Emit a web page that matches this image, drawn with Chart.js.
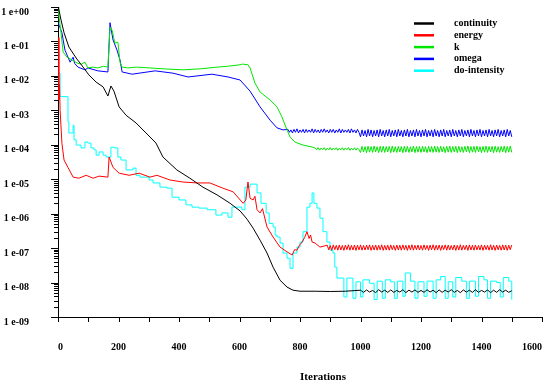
<!DOCTYPE html>
<html><head><meta charset="utf-8">
<script src="https://cdn.jsdelivr.net/npm/chart.js@4.4.1/dist/chart.umd.min.js"></script>
<style>html,body{margin:0;padding:0;background:#fff;}canvas{display:block;}</style>
</head><body>
<canvas id="c" width="550" height="387"></canvas>
<script>
const seriesNames = ['continuity', 'energy', 'k', 'omega', 'do-intensity'];
const seriesColors = ['#000000', '#ff0000', '#00e600', '#0000ff', '#00ffff'];
const xTitle = 'Iterations';
const xTickLabels = ['0','200','400','600','800','1000','1200','1400','1600'];
const yTickLabels = ['1 e-09','1 e-08','1 e-07','1 e-06','1 e-05','1 e-04','1 e-03','1 e-02','1 e-01','1 e+00'];

// shared iteration grid for the oscillating tails (1000..1500, every 5)
const tailIter5 = [1000,1005,1010,1015,1020,1025,1030,1035,1040,1045,1050,1055,1060,1065,1070,1075,1080,1085,1090,1095,
 1100,1105,1110,1115,1120,1125,1130,1135,1140,1145,1150,1155,1160,1165,1170,1175,1180,1185,1190,1195,
 1200,1205,1210,1215,1220,1225,1230,1235,1240,1245,1250,1255,1260,1265,1270,1275,1280,1285,1290,1295,
 1300,1305,1310,1315,1320,1325,1330,1335,1340,1345,1350,1355,1360,1365,1370,1375,1380,1385,1390,1395,
 1400,1405,1410,1415,1420,1425,1430,1435,1440,1445,1450,1455,1460,1465,1470,1475,1480,1485,1490,1495,1500];

// continuity
const blackIter = [0,2,10,20,36,60,83,102,126,149,165,175,185,202,225,258,291,324,347,393,436,479,526,569,602,625,645,668,691,711,734,757,777,800,850,900,950,
 1000,1010,1020,1030,1040,1050,1060,1070,1080,1090,1100,1110,1120,1130,1140,1150,1160,1170,1180,1190,1200,1210,1220,1230,1240,1250,1260,1270,1280,1290,1300,1310,1320,1330,1340,1350,1360,1370,1380,1390,1400,1410,1420,1430,1440,1450,1460,1470,1480,1490,1500];
const blackVal = [1.0,0.93,4.2e-1,1.78e-1,6.9e-2,3.3e-2,1.8e-2,1.07e-2,6.6e-3,4.8e-3,2.6e-3,5.1e-3,3.6e-3,1.26e-3,7.2e-4,4.3e-4,2.2e-4,1.12e-4,4.4e-5,1.86e-5,1.07e-5,5.9e-6,3.5e-6,2.0e-6,1.2e-6,6.9e-7,3.8e-7,1.7e-7,7.2e-8,2.8e-8,1.17e-8,7.4e-9,6.0e-9,5.6e-9,5.6e-9,5.5e-9,5.6e-9,
 6.0e-9,5.2e-9,6.1e-9,5.3e-9,5.9e-9,5.1e-9,6.2e-9,5.3e-9,6.0e-9,5.2e-9,
 6.1e-9,5.2e-9,5.9e-9,5.3e-9,6.2e-9,5.1e-9,6.0e-9,5.3e-9,6.1e-9,5.2e-9,
 5.9e-9,5.2e-9,6.2e-9,5.3e-9,6.0e-9,5.1e-9,6.1e-9,5.2e-9,6.0e-9,5.3e-9,
 6.2e-9,5.2e-9,5.9e-9,5.1e-9,6.1e-9,5.3e-9,6.0e-9,5.2e-9,6.2e-9,5.2e-9,
 5.9e-9,5.3e-9,6.1e-9,5.1e-9,6.0e-9,5.2e-9,6.2e-9,5.3e-9,6.0e-9,5.2e-9,
 5.8e-9];

// energy
const redHeadIter = [0,3,5,7,13,20,33,50,69,93,116,136,165,169,182,202,235,268,304,327,370,413,460,502,545,579,612,621,628,635,645,651,658,668,676,691,711,734,757,774,782,790,798,807,815,823,830,835,840,850,866,880,
 890,895,900,905,910,915,920,925,930,935,940,945,950,955,960,965,970,975,980,985,990,995];
const redHeadVal = [1.3e-1,2.0e-3,5.5e-3,1.0e-3,1.1e-4,3.6e-5,2.2e-5,1.15e-5,1.07e-5,1.3e-5,1.07e-5,1.23e-5,1.15e-5,4.4e-5,2.2e-5,1.5e-5,1.3e-5,1.5e-5,1.15e-5,1.3e-5,9.5e-6,8.3e-6,7.8e-6,7.8e-6,5.5e-6,4.3e-6,2.0e-6,2.5e-6,8.3e-6,2.8e-6,2.5e-6,3.2e-6,1.3e-6,1.05e-6,1.4e-6,4.1e-7,2.1e-7,1.07e-7,7.8e-8,6.3e-8,9.0e-8,8.7e-8,1.2e-7,1.5e-7,2.0e-7,3.0e-7,1.9e-7,2.4e-7,1.5e-7,1.4e-7,1.07e-7,1.15e-7,
 1.22e-7,8.9e-8,1.18e-7,8.6e-8,1.24e-7,9.0e-8,1.2e-7,8.7e-8,1.23e-7,8.8e-8,
 1.19e-7,8.6e-8,1.22e-7,9.0e-8,1.25e-7,8.7e-8,1.2e-7,8.8e-8,1.23e-7,8.6e-8,
 1.21e-7,8.9e-8];
const redTailVal = [1.24e-7,8.7e-8,1.19e-7,8.8e-8,1.22e-7,9.0e-8,1.24e-7,8.6e-8,1.2e-7,8.8e-8,
 1.23e-7,8.7e-8,1.21e-7,8.9e-8,1.25e-7,8.6e-8,1.2e-7,8.8e-8,1.22e-7,8.7e-8,
 1.24e-7,9.0e-8,1.19e-7,8.6e-8,1.23e-7,8.8e-8,1.21e-7,8.7e-8,1.24e-7,8.9e-8,
 1.2e-7,8.6e-8,1.22e-7,8.8e-8,1.25e-7,8.7e-8,1.21e-7,8.9e-8,1.23e-7,8.8e-8,
 1.19e-7,8.7e-8,1.24e-7,9.0e-8,1.2e-7,8.6e-8,1.22e-7,8.9e-8,1.25e-7,8.7e-8,
 1.21e-7,8.8e-8,1.23e-7,8.6e-8,1.2e-7,9.0e-8,1.24e-7,8.7e-8,1.22e-7,8.8e-8,
 1.19e-7,8.9e-8,1.23e-7,8.6e-8,1.21e-7,8.8e-8,1.25e-7,8.7e-8,1.2e-7,9.0e-8,
 1.22e-7,8.6e-8,1.24e-7,8.8e-8,1.21e-7,8.7e-8,1.23e-7,8.9e-8,1.19e-7,8.8e-8,
 1.24e-7,8.6e-8,1.22e-7,9.0e-8,1.2e-7,8.7e-8,1.25e-7,8.8e-8,1.21e-7,8.6e-8,
 1.23e-7,8.9e-8,1.2e-7,8.7e-8,1.24e-7,8.8e-8,1.22e-7,8.6e-8,1.21e-7,9.0e-8,
 1.23e-7];

// k
const greenHeadIter = [0,10,17,30,46,55,66,78,89,99,115,132,150,165,172,179,184,188,198,205,212,231,260,304,350,413,470,526,560,602,610,628,635,651,668,701,724,740,757,767,783,810,843,
 850,855,860,865,870,875,880,885,890,895,900,905,910,915,920,925,930,935,940,945,950,955,960,965,970,975,980,985,990,995];
const greenHeadVal = [0.89,1.78e-1,4.9e-2,3.5e-2,2.9e-2,2.6e-2,2.3e-2,2.2e-2,2.5e-2,1.7e-2,1.8e-2,1.7e-2,1.9e-2,1.8e-2,2.6e-1,2.1e-1,1.3e-1,8.9e-2,9.5e-2,2.5e-2,1.8e-2,1.7e-2,1.8e-2,1.7e-2,1.6e-2,1.5e-2,1.6e-2,1.8e-2,1.9e-2,2.1e-2,2.2e-2,2.1e-2,1.7e-2,6.2e-3,3.4e-3,2.0e-3,1.26e-3,6.5e-4,2.7e-4,1.7e-4,1.2e-4,9.8e-5,8.5e-5,
 8.0e-5,7.1e-5,8.3e-5,7.0e-5,8.1e-5,7.2e-5,8.2e-5,6.9e-5,8.0e-5,7.1e-5,
 8.3e-5,7.0e-5,8.1e-5,7.2e-5,8.2e-5,6.9e-5,8.0e-5,7.1e-5,8.2e-5,7.0e-5,
 8.1e-5,7.2e-5,8.3e-5,6.9e-5,8.0e-5,7.1e-5,8.2e-5,7.0e-5,8.1e-5,7.2e-5];
const greenTailVal = [6.0e-5,9.0e-5,6.2e-5,8.8e-5,5.9e-5,9.1e-5,6.1e-5,8.9e-5,6.0e-5,9.2e-5,
 6.2e-5,8.8e-5,5.9e-5,9.0e-5,6.1e-5,9.1e-5,6.0e-5,8.9e-5,6.2e-5,9.0e-5,
 5.9e-5,9.2e-5,6.1e-5,8.8e-5,6.0e-5,9.0e-5,6.2e-5,8.9e-5,5.9e-5,9.1e-5,
 6.1e-5,9.0e-5,6.0e-5,8.8e-5,6.2e-5,9.2e-5,5.9e-5,8.9e-5,6.1e-5,9.0e-5,
 6.0e-5,9.1e-5,6.2e-5,8.8e-5,5.9e-5,9.0e-5,6.1e-5,8.9e-5,6.0e-5,9.2e-5,
 6.1e-5,8.9e-5,6.0e-5,9.1e-5,6.2e-5,8.8e-5,5.9e-5,9.0e-5,6.1e-5,9.2e-5,
 6.0e-5,8.9e-5,6.2e-5,9.0e-5,5.9e-5,9.1e-5,6.1e-5,8.8e-5,6.0e-5,9.0e-5,
 6.2e-5,9.2e-5,5.9e-5,8.9e-5,6.1e-5,9.0e-5,6.0e-5,9.1e-5,6.2e-5,8.8e-5,
 5.9e-5,9.0e-5,6.1e-5,9.2e-5,6.0e-5,8.9e-5,6.2e-5,9.0e-5,5.9e-5,9.1e-5,
 6.1e-5,8.8e-5,6.0e-5,9.0e-5,6.2e-5,9.1e-5,5.9e-5,8.9e-5,6.1e-5,9.2e-5,
 6.0e-5];

// omega
const blueHeadIter = [0,13,23,40,50,55,66,89,99,132,165,172,182,195,205,212,245,321,380,430,509,562,602,635,668,701,724,744,
 760,765,770,775,780,785,790,795,800,805,810,815,820,825,830,835,840,845,850,855,860,865,870,875,
 880,885,890,895,900,905,910,915,920,925,930,935,940,945,950,955,960,965,970,975,980,985,990,995];
const blueHeadVal = [3.6e-1,1.78e-1,5.6e-2,2.5e-2,3.5e-2,2.3e-2,1.8e-2,1.5e-2,1.7e-2,1.4e-2,1.3e-2,3.5e-1,1.1e-1,5.6e-2,2.9e-2,1.3e-2,1.12e-2,1.4e-2,1.2e-2,9.3e-3,1.12e-2,9.3e-3,7.6e-3,3.6e-3,1.26e-3,5.2e-4,3.1e-4,2.7e-4,
 2.8e-4,2.3e-4,2.7e-4,2.2e-4,2.8e-4,2.3e-4,2.9e-4,2.2e-4,2.7e-4,2.3e-4,
 2.8e-4,2.2e-4,2.8e-4,2.3e-4,2.7e-4,2.3e-4,2.9e-4,2.2e-4,2.8e-4,2.3e-4,
 2.7e-4,2.2e-4,2.8e-4,2.3e-4,2.9e-4,2.3e-4,2.7e-4,2.2e-4,2.8e-4,2.3e-4,
 2.8e-4,2.2e-4,2.7e-4,2.3e-4,2.9e-4,2.2e-4,2.8e-4,2.3e-4,2.7e-4,2.3e-4,
 2.8e-4,2.2e-4,2.9e-4,2.3e-4,2.7e-4,2.2e-4,2.8e-4,2.3e-4];
const blueTailVal = [1.7e-4,2.7e-4,1.8e-4,2.6e-4,1.7e-4,2.8e-4,1.8e-4,2.7e-4,1.7e-4,2.6e-4,
 1.8e-4,2.7e-4,1.7e-4,2.8e-4,1.8e-4,2.6e-4,1.7e-4,2.7e-4,1.8e-4,2.8e-4,
 1.7e-4,2.6e-4,1.8e-4,2.7e-4,1.7e-4,2.8e-4,1.8e-4,2.6e-4,1.7e-4,2.7e-4,
 1.8e-4,2.8e-4,1.7e-4,2.6e-4,1.8e-4,2.7e-4,1.7e-4,2.8e-4,1.8e-4,2.6e-4,
 1.7e-4,2.7e-4,1.8e-4,2.8e-4,1.7e-4,2.6e-4,1.8e-4,2.7e-4,1.7e-4,2.8e-4,
 1.8e-4,2.6e-4,1.7e-4,2.7e-4,1.8e-4,2.8e-4,1.7e-4,2.6e-4,1.8e-4,2.7e-4,
 1.7e-4,2.8e-4,1.8e-4,2.6e-4,1.7e-4,2.7e-4,1.8e-4,2.8e-4,1.7e-4,2.6e-4,
 1.8e-4,2.7e-4,1.7e-4,2.8e-4,1.8e-4,2.6e-4,1.7e-4,2.7e-4,1.8e-4,2.8e-4,
 1.7e-4,2.6e-4,1.8e-4,2.7e-4,1.7e-4,2.8e-4,1.8e-4,2.6e-4,1.7e-4,2.7e-4,
 1.8e-4,2.8e-4,1.7e-4,2.6e-4,1.8e-4,2.7e-4,1.7e-4,2.8e-4,1.8e-4,2.6e-4,
 1.7e-4];

// do-intensity (stepped)
const cyanIter = [0,7,33,36,50,53,60,76,89,99,109,119,126,136,149,159,175,185,198,208,225,248,258,271,301,314,337,360,377,400,423,443,466,493,522,542,562,575,608,618,635,658,671,688,698,711,718,724,734,744,757,767,777,790,800,810,823,833,840,846,856,866,876,889,899,909,915,922,945,955,975,985,1000,1008,1030,1045,1055,1072,1082,1100,1112,1122,1140,1148,1165,1180,1190,1210,1220,1240,1250,1265,1280,1290,1305,1315,1335,1350,1360,1380,1390,1408,1420,1430,1450,1462,1472,1490,1500];
const cyanVal = [1.2e-2,2.5e-3,4.6e-4,2.2e-4,3.7e-4,1.4e-4,9.8e-5,8.1e-5,1.2e-4,1.12e-4,
 8.1e-5,7.1e-5,5.0e-5,6.2e-5,5.0e-5,4.4e-5,8.5e-5,8.1e-5,4.4e-5,3.6e-5,
 1.86e-5,2.1e-5,1.3e-5,1.15e-5,9.5e-6,7.8e-6,5.9e-6,5.5e-6,3.0e-6,2.5e-6,
 1.8e-6,1.55e-6,1.45e-6,1.3e-6,9.1e-7,1.05e-6,7.9e-7,1.55e-6,1.3e-6,5.9e-6,
 7.2e-6,4.0e-6,2.0e-6,1.05e-6,5.2e-7,4.1e-7,2.4e-7,2.1e-7,1.4e-7,7.2e-8,
 5.1e-8,2.6e-8,7.2e-8,1.07e-7,1.5e-7,3.0e-7,1.55e-6,2.0e-6,4.0e-6,2.0e-6,
 1.45e-6,7.4e-7,3.0e-7,1.5e-7,8.7e-8,7.2e-8,2.8e-8,1.35e-8,3.8e-9,1.35e-8,
 3.5e-9,1.05e-8,3.8e-9,1.2e-8,9.5e-9,3.2e-9,1.1e-8,3.5e-9,1.2e-8,1.05e-8,
 3.5e-9,1.1e-8,4.0e-9,1.9e-8,1.1e-8,3.5e-9,1.05e-8,4.0e-9,1.1e-8,3.5e-9,
 1.2e-8,1.5e-8,3.5e-9,1.05e-8,3.8e-9,1.4e-8,1.1e-8,3.5e-9,1.1e-8,4.0e-9,
 1.5e-8,1.2e-8,3.5e-9,1.1e-8,1.0e-8,3.8e-9,1.4e-8,1.1e-8,3.2e-9];

const FONT = '"Liberation Serif", "Times New Roman", serif';

function pts(it, v) { return it.map((x, i) => ({ x: x, y: v[i] })); }

const seriesData = [
  pts(blackIter, blackVal),
  pts(redHeadIter.concat(tailIter5), redHeadVal.concat(redTailVal)),
  pts(greenHeadIter.concat(tailIter5), greenHeadVal.concat(greenTailVal)),
  pts(blueHeadIter.concat(tailIter5), blueHeadVal.concat(blueTailVal)),
  pts(cyanIter, cyanVal)
];

const decorPlugin = {
  id: 'decor',
  afterDraw(chart) {
    const ctx = chart.ctx, xs = chart.scales.x, ys = chart.scales.y, area = chart.chartArea;
    ctx.save();
    ctx.strokeStyle = '#000'; ctx.lineWidth = 1;
    for (let e = -9; e <= 0; e++) {
      for (let m = 1; m <= 9; m++) {
        if (e === 0 && m > 1) break;
        const py = Math.round(ys.getPixelForValue(m * Math.pow(10, e))) + 0.5;
        const len = m === 1 ? 7 : 4;
        ctx.beginPath(); ctx.moveTo(area.left - len, py); ctx.lineTo(area.left, py); ctx.stroke();
      }
    }
    for (let v = 0; v <= 1600; v += 100) {
      const px = Math.round(xs.getPixelForValue(v)) + 0.5;
      ctx.beginPath(); ctx.moveTo(px, area.bottom); ctx.lineTo(px, area.bottom + 5); ctx.stroke();
    }
    ctx.font = 'bold 10px ' + FONT; ctx.textBaseline = 'middle'; ctx.textAlign = 'left';
    chart.data.datasets.forEach((ds, i) => {
      const y = 23.5 + i * 11.8;
      ctx.strokeStyle = ds.borderColor; ctx.lineWidth = 2.5;
      ctx.beginPath(); ctx.moveTo(414, y); ctx.lineTo(434, y); ctx.stroke();
      ctx.fillStyle = '#000'; ctx.fillText(ds.label, 454, y);
    });
    ctx.font = 'bold 11px ' + FONT; ctx.textAlign = 'center';
    ctx.fillText(xTitle, 323, 377);
    ctx.restore();
  }
};

new Chart(document.getElementById('c'), {
  type: 'line',
  data: {
    datasets: seriesNames.map((n, i) => ({
      label: n,
      data: seriesData[i],
      borderColor: seriesColors[i],
      backgroundColor: seriesColors[i],
      borderWidth: 1,
      pointRadius: 0,
      tension: 0,
      fill: false,
      stepped: i === 4 ? 'before' : false
    }))
  },
  options: {
    responsive: false,
    animation: false,
    devicePixelRatio: 1,
    layout: { padding: { top: 7, right: 8, left: 0, bottom: 0 } },
    plugins: { legend: { display: false }, tooltip: { enabled: false } },
    scales: {
      x: {
        type: 'linear', min: 0, max: 1600,
        grid: { display: true, drawOnChartArea: false, drawTicks: true, tickLength: 23, tickColor: 'rgba(0,0,0,0)', color: 'rgba(0,0,0,0)' },
        border: { display: true, color: '#000', width: 1 },
        ticks: {
          stepSize: 100, autoSkip: false, maxRotation: 0, minRotation: 0, align: 'inner', padding: 1,
          color: '#000', font: { family: FONT, weight: 'bold', size: 10 },
          callback: (v) => { const k = xTickLabels.indexOf(String(v)); return k >= 0 ? xTickLabels[k] : ''; }
        },
        afterFit: (s) => { s.height = 70; }
      },
      y: {
        type: 'logarithmic', min: 1e-9, max: 1,
        grid: { display: true, drawOnChartArea: false, drawTicks: true, tickLength: 28, tickColor: 'rgba(0,0,0,0)', color: 'rgba(0,0,0,0)' },
        border: { display: true, color: '#000', width: 1 },
        ticks: {
          autoSkip: false, padding: 1, labelOffset: 5,
          color: '#000', font: { family: FONT, weight: 'bold', size: 10 },
          callback: (v) => { const e = Math.log10(v); const r = Math.round(e); if (Math.abs(e - r) > 1e-6) return ''; return yTickLabels[r + 9]; }
        },
        afterFit: (s) => { s.width = 58; }
      }
    }
  },
  plugins: [decorPlugin]
});
</script>
</body></html>
